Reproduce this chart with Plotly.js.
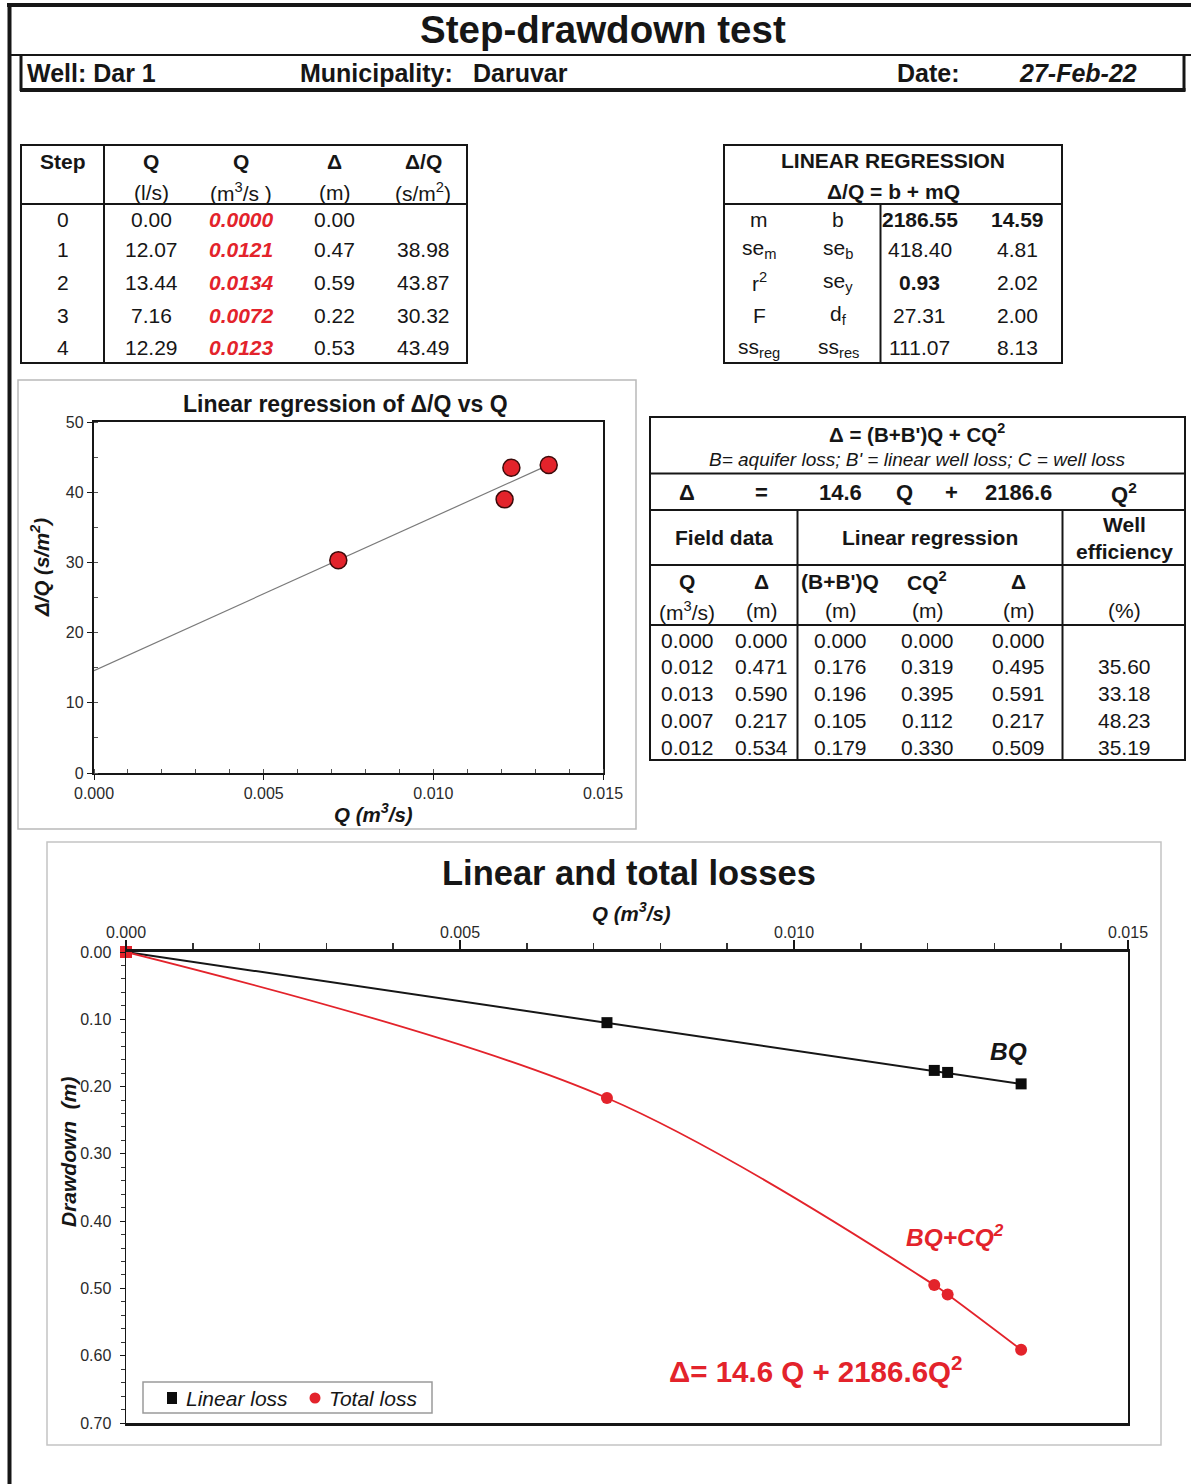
<!DOCTYPE html>
<html><head><meta charset="utf-8">
<script src="https://cdn.plot.ly/plotly-3.0.1.min.js"></script>
<style>html,body{margin:0;padding:0;background:#fff}#chart{width:1191px;height:1484px}</style>
</head><body><div id="chart"></div>
<script>
// ---------- DATA ----------
const wellName = 'Dar 1';
const municipality = 'Daruvar';
const testDate = '27-Feb-22';

// Step table
const stepHeader1 = ['Step', 'Q', 'Q', 'Δ', 'Δ/Q'];
const stepHeader2 = ['', '(l/s)', '(m<sup>3</sup>/s )', '(m)', '(s/m<sup>2</sup>)'];
const steps = [0, 1, 2, 3, 4];
const qLs = [0.00, 12.07, 13.44, 7.16, 12.29];
const qM3s = [0.0000, 0.0121, 0.0134, 0.0072, 0.0123];
const drawdownM = [0.00, 0.47, 0.59, 0.22, 0.53];
const specDrawdown = [null, 38.98, 43.87, 30.32, 43.49];

// Linear regression table
const regLabelsA = ['m', 'se<sub>m</sub>', 'r<sup>2</sup>', 'F', 'ss<sub>reg</sub>'];
const regLabelsB = ['b', 'se<sub>b</sub>', 'se<sub>y</sub>', 'd<sub>f</sub>', 'ss<sub>res</sub>'];
const regValuesA = [2186.55, 418.40, 0.93, 27.31, 111.07];
const regValuesB = [14.59, 4.81, 2.02, 2.00, 8.13];

// Losses table
const lossHeader1 = ['Q', 'Δ', "(B+B')Q", 'CQ<sup>2</sup>', 'Δ', ''];
const lossHeader2 = ['(m<sup>3</sup>/s)', '(m)', '(m)', '(m)', '(m)', '(%)'];
const fieldQ = [0.000, 0.012, 0.013, 0.007, 0.012];
const fieldDelta = [0.000, 0.471, 0.590, 0.217, 0.534];
const linearLossBQ = [0.000, 0.176, 0.196, 0.105, 0.179];
const wellLossCQ2 = [0.000, 0.319, 0.395, 0.112, 0.330];
const totalLoss = [0.000, 0.495, 0.591, 0.217, 0.509];
const wellEfficiency = [null, 35.60, 33.18, 48.23, 35.19];
const coefB = 14.6, coefC = 2186.6;

// Series names and axis ticks
const seriesNames = ['Linear loss', 'Total loss'];
const qTicks = [0.000, 0.005, 0.010, 0.015];
const dqTicks = [0, 10, 20, 30, 40, 50];
const ddTicks = [0.00, 0.10, 0.20, 0.30, 0.40, 0.50, 0.60, 0.70];

// ---------- HELPERS ----------
const W = 1191, H = 1484;
const FONT = 'Liberation Sans, Arial, Helvetica, sans-serif';
const RED = '#e3232b';
const INK = '#161616';
const X = p => p / W, Y = p => 1 - p / H;
const annotations = [], shapes = [];
function txt(x, y, text, o = {}) {
  let t = String(text);
  if (!t) return;
  if (o.bold) t = '<b>' + t + '</b>';
  if (o.italic) t = '<i>' + t + '</i>';
  annotations.push({xref: 'paper', yref: 'paper', x: X(x), y: Y(y), text: t, showarrow: false,
    xanchor: o.xa || 'center', yanchor: 'middle', textangle: o.angle || 0,
    font: {family: FONT, size: o.size || 21, color: o.color || INK}});
}
function line(x0, y0, x1, y1, w = 2, c = INK) {
  shapes.push({type: 'line', xref: 'paper', yref: 'paper', x0: X(x0), y0: Y(y0), x1: X(x1), y1: Y(y1), line: {color: c, width: w}});
}
function rect(x0, y0, x1, y1, w = 2, c = INK, fill = 'rgba(0,0,0,0)', type = 'rect') {
  shapes.push({type, xref: 'paper', yref: 'paper', x0: X(x0), y0: Y(y0), x1: X(x1), y1: Y(y1), line: {color: c, width: w}, fillcolor: fill});
}
const f = (v, d) => v == null ? '' : v.toFixed(d);

// ---------- FRAME & HEADER ----------
line(7, 5, 1191, 5, 4);
line(9.5, 4, 9.5, 1484, 4);
line(8, 55, 1191, 55, 2);
line(21, 55, 21, 91, 3);
line(1184, 55, 1184, 91, 3);
line(20, 90, 1185.5, 90, 4);
txt(603, 30, 'Step-drawdown test', {bold: true, size: 38.5});
txt(25, 73, 'Well: ' + wellName, {bold: true, size: 25, xa: 'left'});
txt(298, 73, 'Municipality:', {bold: true, size: 25, xa: 'left'});
txt(471, 73, municipality, {bold: true, size: 25, xa: 'left'});
txt(895, 73, 'Date:', {bold: true, size: 25, xa: 'left'});
txt(1017, 73, testDate, {bold: true, italic: true, size: 25, xa: 'left'});

// ---------- STEP TABLE ----------
rect(21, 145, 467, 363, 2);
line(21, 204, 467, 204, 2);
line(104, 145, 104, 363, 2);
const stepCols = [63, 151, 241, 334, 423];
const rowY = [219, 249, 282, 315, 348];
stepHeader1.forEach((h, i) => txt(stepCols[i], 161, h, {bold: true}));
stepHeader2.forEach((h, i) => txt(stepCols[i], 192, h));
steps.forEach((s, r) => {
  txt(stepCols[0], rowY[r], String(s));
  txt(stepCols[1], rowY[r], f(qLs[r], 2));
  txt(stepCols[2], rowY[r], f(qM3s[r], 4), {bold: true, italic: true, color: RED});
  txt(stepCols[3], rowY[r], f(drawdownM[r], 2));
  txt(stepCols[4], rowY[r], f(specDrawdown[r], 2));
});

// ---------- REGRESSION TABLE ----------
rect(724, 145, 1062, 363, 2);
line(724, 204, 1062, 204, 2);
line(880.5, 204, 880.5, 363, 2);
txt(893, 160, 'LINEAR REGRESSION', {bold: true});
txt(893, 191, 'Δ/Q = b + mQ', {bold: true});
const regCols = [759, 838, 920, 1017];
regLabelsA.forEach((l, r) => {
  txt(regCols[0], rowY[r], l);
  txt(regCols[1], rowY[r], regLabelsB[r]);
  txt(regCols[2], rowY[r], f(regValuesA[r], 2), {bold: r === 0 || r === 2});
  txt(regCols[3], rowY[r], f(regValuesB[r], 2), {bold: r === 0});
});

// ---------- LOSSES TABLE ----------
rect(650, 417, 1185, 760, 2);
line(650, 473.5, 1185, 473.5, 2);
line(650, 510, 1185, 510, 2);
line(650, 565, 1185, 565, 2);
line(650, 625, 1185, 625, 2);
line(797.5, 510, 797.5, 760, 2);
line(1062.5, 510, 1062.5, 760, 2);
txt(917, 433, "Δ = (B+B')Q + CQ<sup>2</sup>", {bold: true, size: 20.5});
txt(917, 460, "B= aquifer loss; B' = linear well loss; C = well loss", {italic: true, size: 19});
const eqCols = [687, 761, 840, 904, 951, 1018, 1124];
const eqParts = ['Δ', '=', f(coefB, 1), 'Q', '+', f(coefC, 1), 'Q<sup>2</sup>'];
eqParts.forEach((p, i) => txt(eqCols[i], 493, p, {bold: true, size: 22}));
txt(724, 538, 'Field data', {bold: true});
txt(930, 538, 'Linear regression', {bold: true});
txt(1124, 538, 'Well<br>efficiency', {bold: true});
const lossCols = [687, 761, 840, 927, 1018, 1124];
lossHeader1.forEach((h, i) => txt(lossCols[i], 581, h, {bold: true}));
lossHeader2.forEach((h, i) => txt(lossCols[i], 611, h));
const lossRowY = [640, 666, 693, 720, 747];
fieldQ.forEach((q, r) => {
  txt(lossCols[0], lossRowY[r], f(q, 3));
  txt(lossCols[1], lossRowY[r], f(fieldDelta[r], 3));
  txt(lossCols[2], lossRowY[r], f(linearLossBQ[r], 3));
  txt(lossCols[3], lossRowY[r], f(wellLossCQ2[r], 3));
  txt(lossCols[4], lossRowY[r], f(totalLoss[r], 3));
  txt(lossCols[5], lossRowY[r], f(wellEfficiency[r], 2));
});

// ---------- CHART 1 FRAME & TEXT ----------
rect(18, 380, 636, 829, 1.5, '#b9b9b9');
txt(346, 404, 'Linear regression of Δ/Q vs Q', {bold: true, size: 23});
txt(373, 813, 'Q (m<sup>3</sup>/s)', {bold: true, italic: true, size: 20.5});
txt(40, 568, 'Δ/Q (s/m<sup>2</sup>)', {bold: true, italic: true, size: 20.5, angle: -90});

// ---------- CHART 2 FRAME & TEXT ----------
rect(47, 842, 1161, 1445, 1.5, '#c4c4c4');
txt(629, 873, 'Linear and total losses', {bold: true, size: 34.5});
txt(631, 912, 'Q (m<sup>3</sup>/s)', {bold: true, italic: true, size: 20.5});
txt(68, 1152, 'Drawdown  (m)', {bold: true, italic: true, size: 21, angle: -90});
txt(1008, 1051, 'BQ', {bold: true, italic: true, size: 24.5});
txt(955, 1235, 'BQ+CQ<sup>2</sup>', {bold: true, italic: true, size: 24.5, color: RED});
txt(815, 1369, 'Δ= ' + f(coefB, 1) + ' Q + ' + f(coefC, 1) + 'Q<sup>2</sup>', {bold: true, size: 29.5, color: RED});

// manual legend box
rect(143, 1382, 432, 1413, 1.5, '#9a9a9a', '#ffffff');
rect(167, 1392, 177, 1404, 0, '#0c0c0c', '#0c0c0c');
txt(184, 1398, seriesNames[0], {italic: true, size: 21, xa: 'left'});
rect(309.5, 1392.5, 320.5, 1403.5, 0, RED, RED, 'circle');
txt(327, 1398, seriesNames[1], {italic: true, size: 21, xa: 'left'});

// ---------- TRACES ----------
const slope = regValuesA[0], intercept = regValuesB[0];
const ptsQ = [], ptsDQ = [];
qM3s.forEach((q, i) => { if (specDrawdown[i] != null) { ptsQ.push(q); ptsDQ.push(specDrawdown[i]); } });
const qMax = Math.max(...ptsQ);

const order = qM3s.map((q, i) => i).sort((a, b) => qM3s[a] - qM3s[b]);
const sQ = order.map(i => qM3s[i]);
const sBQ = order.map(i => linearLossBQ[i]);
const sTot = order.map(i => totalLoss[i]);

const traces = [
  {x: [0, qMax], y: [intercept, intercept + slope * qMax], mode: 'lines', xaxis: 'x', yaxis: 'y',
   line: {color: '#7a7a7a', width: 1.2}, showlegend: false, hoverinfo: 'skip'},
  {x: ptsQ, y: ptsDQ, mode: 'markers', xaxis: 'x', yaxis: 'y', showlegend: false,
   marker: {color: RED, size: 17, line: {color: '#3b0a0a', width: 1.5}}},
  {x: sQ, y: sBQ, mode: 'lines+markers', name: seriesNames[0], xaxis: 'x2', yaxis: 'y2', showlegend: false,
   line: {color: INK, width: 2}, marker: {color: '#0c0c0c', size: 11, symbol: 'square'}, cliponaxis: false},
  {x: sQ, y: sTot, mode: 'lines+markers', name: seriesNames[1], xaxis: 'x2', yaxis: 'y2', showlegend: false,
   line: {color: RED, width: 1.8, shape: 'spline', smoothing: 1},
   marker: {color: RED, size: 12, symbol: sQ.map(q => q === 0 ? 'square' : 'circle')}, cliponaxis: false}
];

const tickFont = {family: FONT, size: 16, color: '#2a2a2a'};
const layout = {
  width: W, height: H, margin: {l: 0, r: 0, t: 0, b: 0},
  paper_bgcolor: '#fff', plot_bgcolor: '#fff',
  font: {family: FONT, color: INK},
  showlegend: false,
  xaxis: {domain: [X(94), X(603)], anchor: 'y', range: [0, 0.015], tickvals: qTicks, tickformat: '.3f',
    ticks: 'outside', ticklen: 5, tickwidth: 1, tickcolor: INK, showline: true, linewidth: 2.2, linecolor: INK,
    mirror: true, showgrid: false, zeroline: false, tickfont: tickFont, fixedrange: true,
    minor: {dtick: 0.001, tick0: 0, ticks: 'inside', ticklen: 4, tickcolor: '#555', showgrid: false}},
  yaxis: {domain: [Y(773), Y(422)], anchor: 'x', range: [0, 50], tickvals: dqTicks,
    ticks: 'outside', ticklen: 5, tickwidth: 1, tickcolor: INK, showline: true, linewidth: 2.2, linecolor: INK,
    mirror: true, showgrid: false, zeroline: false, tickfont: tickFont, fixedrange: true,
    minor: {dtick: 5, tick0: 0, ticks: 'inside', ticklen: 4, tickcolor: '#555', showgrid: false}},
  xaxis2: {domain: [X(126), X(1128)], anchor: 'y2', side: 'top', range: [0, 0.015], tickvals: qTicks, tickformat: '.3f',
    ticks: 'outside', ticklen: 9, tickwidth: 1.5, tickcolor: INK, showline: true, linewidth: 3.2, linecolor: INK,
    mirror: true, showgrid: false, zeroline: false, tickfont: tickFont, fixedrange: true, ticklabelstandoff: -5,
    minor: {dtick: 0.001, tick0: 0, ticks: 'outside', ticklen: 6, tickcolor: '#333', showgrid: false}},
  yaxis2: {domain: [Y(1423), Y(952)], anchor: 'x2', range: [0.70, 0], tickvals: ddTicks, tickformat: '.2f',
    ticks: 'outside', ticklen: 5, tickwidth: 1, tickcolor: INK, showline: true, linewidth: 1.5, linecolor: INK,
    mirror: true, showgrid: false, zeroline: false, tickfont: tickFont, fixedrange: true, ticklabelstandoff: 5,
    minor: {dtick: 0.02, tick0: 0, ticks: 'outside', ticklen: 4, tickcolor: '#333', showgrid: false}},
  annotations, shapes
};

Plotly.newPlot('chart', traces, layout, {displayModeBar: false, staticPlot: true});
</script>
</body></html>
